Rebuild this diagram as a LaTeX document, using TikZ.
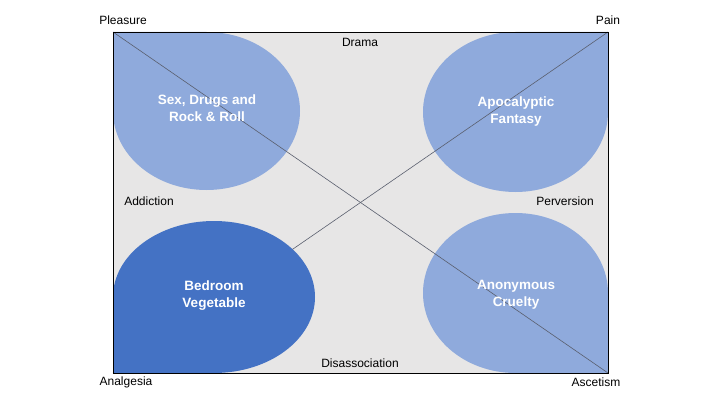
\documentclass[tikz,border=0pt]{standalone}
\usepackage{fontspec}
\setmainfont{Liberation Sans}
\begin{document}
\begin{tikzpicture}[x=1pt,y=1pt,
  lbl/.style={font=\fontsize{12}{14}\selectfont, inner sep=0pt, text=black},
  blobtext/.style={font=\bfseries\fontsize{13.5}{17}\selectfont, text=white, align=center, inner sep=0pt},
  lightblob/.style={fill=lightblue, draw=none},
  darkblob/.style={fill=darkblue, draw=none},
  diag/.style={draw=diagline, line width=0.6pt}]
\definecolor{lightblue}{RGB}{143,170,220}
\definecolor{darkblue}{RGB}{68,114,196}
\definecolor{panelgray}{RGB}{231,230,230}
\definecolor{diagline}{RGB}{90,95,110}
\useasboundingbox (0,0) rectangle (720,405);
% corners
\coordinate (tl) at (113,373);
\coordinate (tr) at (608,373);
\coordinate (bl) at (113,32);
\coordinate (br) at (608,32);
% panel
\fill[panelgray] (bl) rectangle (tr);
% light teardrops
\path[lightblob] (tl) -- (206.5,373) arc[start angle=90,end angle=-180,x radius=93.5,y radius=79] -- cycle;
\path[lightblob] (tr) -- (515.5,373) arc[start angle=90,end angle=360,x radius=92.5,y radius=80] -- cycle;
\path[lightblob] (br) -- (608,112) arc[start angle=0,end angle=270,x radius=92.5,y radius=80] -- cycle;
% diagonals
\draw[diag] (tl) -- (br);
\draw[diag] (tr) -- (bl);
% dark teardrop
\path[darkblob] (bl) -- (214,32) arc[start angle=-90,end angle=180,x radius=101,y radius=76] -- cycle;
% panel border
\draw[black, line width=0.9pt] (bl) rectangle (tr);
% blob texts
\node[blobtext] (sex) at (207,297) {Sex, Drugs and\\Rock \& Roll};
\node[blobtext] (apo) at (516,293) {Apocalyptic\\Fantasy};
\node[blobtext] (anon) at (516,110) {Anonymous\\Cruelty};
\node[blobtext] (bed) at (214,109) {Bedroom\\Vegetable};
% labels
\node[lbl] (pleasure) at (123,385) {Pleasure};
\node[lbl] (pain) at (608,385) {Pain};
\node[lbl] (drama) at (360,363) {Drama};
\node[lbl] (addiction) at (149,204) {Addiction};
\node[lbl] (perversion) at (565,204) {Perversion};
\node[lbl] (disassoc) at (360,42) {Disassociation};
\node[lbl] (analgesia) at (126,23) {Analgesia};
\node[lbl] (ascetism) at (596,23) {Ascetism};
\end{tikzpicture}
\end{document}
